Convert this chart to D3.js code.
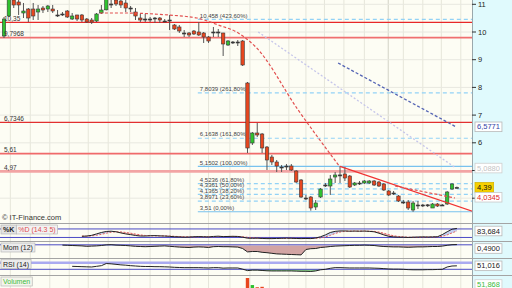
<!DOCTYPE html>
<html>
<head>
<meta charset="utf-8">
<script src="https://cdn.jsdelivr.net/npm/d3@7"></script>
<style>
  body { margin: 0; background: #fff; }
  svg { display: block; font-family: "Liberation Sans", Arial, sans-serif; }
</style>
</head>
<body>
<div id="graph_box"></div>
<script>
// daily candles, index 0..93
const opens  = [9.856,10.578,11.155,11.083,10.686,10.830,10.830,10.722,10.866,10.830,10.830,10.614,10.650,10.758,10.469,10.614,10.614,10.469,10.433,10.397,10.686,10.800,11.011,11.155,11.119,11.047,10.866,10.722,10.505,10.469,10.469,10.505,10.505,10.397,10.433,10.253,10.181,9.964,9.964,10.036,10.000,9.964,9.819,10.000,10.000,9.964,9.531,9.639,9.639,9.675,8.159,5.993,6.354,6.318,5.848,5.487,5.307,5.126,5.162,5.162,4.982,4.657,4.007,4.043,3.682,4.043,4.477,4.440,4.765,4.838,4.874,4.801,4.477,4.549,4.549,4.549,4.621,4.585,4.513,4.260,4.188,4.079,3.863,3.863,3.574,3.755,3.755,3.755,3.646,3.791,3.755,3.791,4.332,4.380];
const highs  = [10.542,11.444,11.264,11.155,11.047,10.866,11.047,10.975,10.939,10.975,10.975,10.794,10.722,10.794,10.686,10.620,10.650,10.505,10.505,10.686,10.975,11.336,11.227,11.264,11.227,11.155,10.939,10.866,10.650,10.650,10.542,10.542,10.542,10.469,10.614,10.289,10.253,10.072,10.000,10.072,10.361,10.000,9.856,10.181,10.108,9.970,9.711,9.675,9.711,9.711,8.195,6.390,6.715,6.354,5.884,5.560,5.379,5.199,5.235,5.235,5.018,4.693,4.116,4.079,3.935,4.368,4.549,4.838,4.946,5.150,5.130,4.838,4.585,4.621,4.657,4.657,4.657,4.621,4.549,4.296,4.260,4.116,3.935,3.935,3.899,3.899,3.791,3.791,3.827,3.827,3.791,4.260,4.549,4.420];
const lows   = [9.783,10.542,10.866,10.614,10.505,10.361,10.433,10.433,10.686,10.722,10.686,10.542,10.578,10.505,10.433,10.397,10.361,10.325,10.289,10.361,10.650,10.780,10.866,10.939,10.866,10.722,10.722,10.433,10.361,10.361,10.361,10.325,10.325,10.361,10.072,10.072,9.964,9.819,9.819,9.892,9.856,9.603,9.603,9.819,9.819,9.134,9.495,9.567,9.495,8.773,5.632,5.921,6.209,5.632,5.018,5.199,4.946,4.946,5.018,4.982,4.549,4.007,3.935,3.550,3.574,4.007,4.404,4.116,4.549,4.549,4.621,4.368,4.440,4.477,4.513,4.513,4.440,4.404,4.260,4.079,4.116,3.863,3.791,3.574,3.510,3.610,3.682,3.682,3.646,3.682,3.718,3.755,4.296,4.360];
const closes = [10.469,11.336,10.975,10.975,10.758,10.505,10.578,10.830,10.794,10.939,10.758,10.600,10.640,10.542,10.578,10.469,10.433,10.361,10.361,10.650,10.794,11.227,11.000,11.011,10.975,10.866,10.860,10.578,10.433,10.460,10.460,10.500,10.433,10.390,10.430,10.108,10.036,9.960,9.892,9.928,9.892,9.819,9.675,9.990,9.990,9.567,9.675,9.603,9.630,8.809,5.812,6.354,6.282,5.812,5.379,5.307,5.162,5.120,5.150,5.018,4.585,4.043,4.000,3.646,3.827,4.332,4.470,4.693,4.838,4.840,4.729,4.404,4.549,4.540,4.621,4.621,4.477,4.440,4.296,4.116,4.180,3.899,3.860,3.646,3.827,3.750,3.750,3.760,3.791,3.718,3.750,4.224,4.513,4.390];
const volumes = [22,30,18,15,12,16,14,12,10,11,10,8,7,12,10,9,11,9,8,14,16,25,14,15,12,13,9,12,10,8,7,8,9,7,14,12,13,9,8,9,15,13,12,10,9,22,12,8,8,40,100,68,58,60,52,40,35,28,22,24,30,38,26,32,28,30,22,28,20,24,20,26,16,14,15,14,16,15,18,20,16,22,14,24,22,15,12,11,14,12,10,52,30,18];

// oscillators
const stochStart = 16;
const stochK = [28,30,35,45,55,62,64,60,52,45,40,34,30,30,32,33,31,30,28,25,24,22,23,25,26,25,24,27,29,26,27,28,27,22,15,14,15,13,12,12,13,14,15,14,13,12,13,12,16,25,38,55,63,66,66,64,65,64,65,63,60,50,38,28,24,22,22,20,22,23,24,23,24,25,40,60,78,83.684];
const stochD = [30,29,31,35,42,50,57,60,59,55,50,44,38,34,32,31,31,31,30,28,26,25,24,24,25,25,25,25,26,27,27,27,27,25,21,18,16,14,14,13,13,13,14,14,14,13,13,13,14,17,24,35,48,58,63,65,65,65,65,64,63,58,50,40,32,27,24,22,21,21,22,23,23,24,28,38,52,66];
const momStart = 12;
const momentum = [0.2,0.1,0,-0.1,-0.2,-0.4,-0.3,-0.2,0,0.3,0.4,0.2,0.1,0,-0.2,-0.4,-0.5,-0.6,-0.5,-0.4,-0.3,-0.2,-0.4,-0.6,-0.8,-0.9,-1.0,-0.8,-0.7,-0.8,-1.0,-0.6,-0.5,-0.6,-0.6,-0.7,-0.8,-1.5,-3.2,-3.0,-3.0,-3.4,-3.6,-3.9,-4.2,-4.3,-4.4,-4.5,-4.6,-4.7,-2.0,-1.6,-1.5,-1.0,-0.8,-0.5,-0.3,-0.2,-0.1,0,0.1,0.1,0.2,0.1,0,-0.3,-0.5,-0.6,-0.7,-0.7,-0.8,-0.9,-0.8,-0.7,-0.7,-0.6,-0.5,-0.5,-0.3,0.1,0.4,0.49];
const rsiStart = 14;
const rsi = [48,47,46,45,44,48,52,65,63,60,57,55,52,50,48,47,47,46,46,45,44,42,41,40,40,40,40,39,38,40,40,37,38,38,38,31,22,25,25,23,21,20,20,20,20,20,19,18,18,17,20,27,30,36,40,40,39,38,38,38,38,38,37,36,34,32,31,31,30,28,27,27,27,28,28,29,30,44,50,51.016];

// horizontal levels and their left labels
const hLevels = [10.35, 9.7968, 6.7346, 5.61, 4.97];
const hLabels = ["10,35", "9,7968", "6,7346", "5,61", "4,97"];

// fibonacci levels
const fibStartIdx = 39.8;
const fibLevels = [10.458, 7.8039, 6.1638, 5.1502, 4.5236, 4.3361, 4.1365, 3.8971, 3.51];
const fibLabels = ["10,458 (423,60%)", "7,8039 (261,80%)", "6,1638 (161,80%)", "5,1502 (100,00%)",
                   "4,5236 (61,80%)", "4,3361 (50,00%)", "4,1365 (38,20%)", "3,8971 (23,60%)", "3,51 (0,00%)"];

// drawn lines as [candle index, price]
const sarCurve  = [[19.7,10.686],[24.8,10.686],[33.7,10.614],[39.6,10.505],[44,10.253],[48.1,9.964],[51.7,9.458],[60.4,7.184],[69,5.126]];
const downTrend = [[69,5.15],[100,3.30]];
const shortDash = [[80.3,4.44],[92.6,4.007]];
const paleTrend = [[52.2,10.0],[92.8,5.088]];
const blueTrend = [[68.6,8.881],[92.8,6.5771]];

const gridTicks = [4, 5, 6, 7, 8, 9, 10, 11];
const labelTicks = [6, 7, 8, 9, 10, 11];
const gridIdx = [1.3,5.4,9.4,13.4,17.3,21.4,25.8,30,38.2,42,46.4,50.5,54.5,58.5,62,65.8,69.8,74,82,86,89.8,93.8];
const monthIdx = [34.1, 78.9];

// value tags on the right axis
const tagLast = "4,39", tagRed = "4,0345", tagBlue = "6,5771", tagPale = "5,0880";
const tagK = "83,684", tagMom = "0,4900", tagRsi = "51,016", tagVol = "51,868";

function drawChart() {
    const W = 512, H = 288, plotR = 472;
    const svg = d3.select("#graph_box").append("svg").attr("width", W).attr("height", H);

    const x = d3.scaleLinear().domain([0, 93]).range([4, 456.9]);
    const y = d3.scaleLinear().domain([4, 10]).range([198.2, 32]);
    const yK = d3.scaleLinear().domain([0, 100]).range([240.3, 226.1]);
    const yM = d3.scaleLinear().domain([0, -5]).range([245.5, 255.5]);
    const yR = d3.scaleLinear().domain([30, 70]).range([269.3, 262.7]);
    const yV = d3.scaleLinear().domain([0, 100]).range([300, 278]);

    // backgrounds
    svg.append("rect").attr("width", plotR).attr("height", H).attr("fill", "#fdfdf4");
    svg.append("rect").attr("x", plotR).attr("width", W - plotR).attr("height", H).attr("fill", "#e0fafd");

    const defs = svg.append("defs");
    defs.append("clipPath").attr("id", "mainClip").append("rect").attr("width", plotR).attr("height", 223);

    // vertical grid through every panel
    svg.append("g").selectAll("line").data(gridIdx).enter().append("line")
        .attr("x1", d => x(d)).attr("x2", d => x(d)).attr("y1", 0).attr("y2", H)
        .attr("stroke", "#e6e6da").attr("stroke-width", 1);
    svg.append("g").selectAll("line").data(monthIdx).enter().append("line")
        .attr("x1", d => x(d)).attr("x2", d => x(d)).attr("y1", 0).attr("y2", H)
        .attr("stroke", "#d2d2c6").attr("stroke-width", 1);

    const main = svg.append("g").attr("clip-path", "url(#mainClip)");

    main.append("g").selectAll("line").data(gridTicks).enter().append("line")
        .attr("x1", 0).attr("x2", plotR).attr("y1", d => y(d)).attr("y2", d => y(d))
        .attr("stroke", "#e8e8e0");

    // red support / resistance lines
    const hColor = ["#e82828", "#f07070", "#e23030", "#f06a6a", "#f2a4a4"];
    const hWidth = [1.3, 1.8, 1.3, 1.8, 2.6];
    main.append("g").selectAll("line").data(hLevels).enter().append("line")
        .attr("x1", 0).attr("x2", plotR).attr("y1", d => y(d)).attr("y2", d => y(d))
        .attr("stroke", (d, i) => hColor[i]).attr("stroke-width", (d, i) => hWidth[i]);

    // fibonacci
    const fibG = main.append("g");
    fibG.selectAll("line").data(fibLevels).enter().append("line")
        .attr("x1", x(fibStartIdx)).attr("x2", plotR)
        .attr("y1", d => y(d)).attr("y2", d => y(d))
        .attr("stroke", (d, i) => (i === 3 || i === 8) ? "#78c2ee" : "#92d2f6")
        .attr("stroke-width", 1.2)
        .attr("stroke-dasharray", (d, i) => (i === 3 || i === 8) ? null : "4,3");

    // trend lines
    const line = d3.line().x(d => x(d[0])).y(d => y(d[1]));
    main.append("path").datum(paleTrend).attr("d", line).attr("fill", "none")
        .attr("stroke", "#c6c6ea").attr("stroke-width", 1.3).attr("stroke-dasharray", "2,2");
    main.append("path").datum(blueTrend).attr("d", line).attr("fill", "none")
        .attr("stroke", "#5464b4").attr("stroke-width", 1.3).attr("stroke-dasharray", "3,2");

    // candles
    const idx = d3.range(opens.length);
    const candles = main.append("g");
    candles.selectAll(".wick").data(idx).enter().append("line")
        .attr("x1", i => x(i)).attr("x2", i => x(i))
        .attr("y1", i => y(highs[i])).attr("y2", i => y(lows[i]))
        .attr("stroke", "#555").attr("stroke-width", 1);
    candles.selectAll(".body").data(idx).enter().append("rect")
        .attr("x", i => x(i) - 1.7).attr("width", 3.4)
        .attr("y", i => y(Math.max(opens[i], closes[i])))
        .attr("height", i => Math.max(1, Math.abs(y(opens[i]) - y(closes[i]))))
        .attr("fill", i => Math.abs(y(opens[i]) - y(closes[i])) < 1 ? "#333" : (closes[i] > opens[i] ? "#2fc22f" : "#e8461e"))
        .attr("stroke", "#3a3a3a").attr("stroke-width", 0.6);

    main.append("path").datum(sarCurve).attr("d", line.curve(d3.curveMonotoneX)).attr("fill", "none")
        .attr("stroke", "#e25050").attr("stroke-width", 1.2).attr("stroke-dasharray", "3,2");
    line.curve(d3.curveLinear);
    main.append("path").datum(downTrend).attr("d", line).attr("fill", "none")
        .attr("stroke", "#f03232").attr("stroke-width", 1.3);
    main.append("path").datum(shortDash).attr("d", line).attr("fill", "none")
        .attr("stroke", "#e25050").attr("stroke-width", 1.2).attr("stroke-dasharray", "3,2");

    // level texts
    main.append("g").selectAll("text").data(hLevels).enter().append("text")
        .attr("x", 4).attr("y", d => y(d) - 1.8)
        .attr("font-size", 6.5).attr("fill", "#333").text((d, i) => hLabels[i]);
    fibG.selectAll("text").data(fibLevels).enter().append("text")
        .attr("x", x(fibStartIdx) + 2).attr("y", d => y(d) - 1.8)
        .attr("font-size", 6).attr("fill", "#444").text((d, i) => fibLabels[i]);

    svg.append("text").attr("x", 2).attr("y", 220).attr("font-size", 7.5).attr("fill", "#333")
        .text("\u00a9 IT-Finance.com");

    // right price axis
    svg.append("line").attr("x1", plotR + 0.5).attr("x2", plotR + 0.5).attr("y1", 0).attr("y2", H)
        .attr("stroke", "#9aa8ac");
    const axis = svg.append("g");
    axis.selectAll("line").data(gridTicks).enter().append("line")
        .attr("x1", plotR).attr("x2", plotR + 4).attr("y1", d => y(d)).attr("y2", d => y(d))
        .attr("stroke", "#333");
    axis.selectAll("text").data(labelTicks).enter().append("text")
        .attr("x", plotR + 6).attr("y", d => y(d) + 2.5)
        .attr("font-size", 7.5).attr("fill", "#222").text(d => d);

    // lower panels
    const sep = [223.5, 241.5, 258.5, 275.5];
    svg.append("g").selectAll("line").data(sep).enter().append("line")
        .attr("x1", 0).attr("x2", W).attr("y1", d => d).attr("y2", d => d)
        .attr("stroke", "#a4a4a4");

    // stochastics
    const kG = svg.append("g");
    const kIdx = d3.range(stochK.length);
    const kx = i => x(i + stochStart);
    for (let i = 0; i < stochK.length - 1; i++) {
        const up = (stochK[i] + stochK[i + 1]) >= (stochD[i] + stochD[i + 1]);
        kG.append("path")
            .attr("d", `M${kx(i)},${yK(stochK[i])}L${kx(i + 1)},${yK(stochK[i + 1])}L${kx(i + 1)},${yK(stochD[i + 1])}L${kx(i)},${yK(stochD[i])}Z`)
            .attr("fill", up ? "#b4c4f0" : "#eeaaaa").attr("opacity", 0.8);
    }
    [80, 20].forEach(v => kG.append("line").attr("x1", 0).attr("x2", plotR).attr("y1", yK(v)).attr("y2", yK(v))
        .attr("stroke", "#4a4ac4").attr("stroke-width", 1));
    kG.append("path").datum(kIdx).attr("fill", "none").attr("stroke", "#e06060").attr("stroke-width", 1)
        .attr("stroke-dasharray", "2,1.5")
        .attr("d", d3.line().x(i => kx(i)).y(i => yK(stochD[i])));
    kG.append("path").datum(kIdx).attr("fill", "none").attr("stroke", "#222").attr("stroke-width", 1)
        .attr("d", d3.line().x(i => kx(i)).y(i => yK(stochK[i])));

    // momentum
    const mG = svg.append("g");
    const mIdx = d3.range(momentum.length);
    const mx = i => x(i + momStart);
    mG.append("path").datum(mIdx).attr("fill", "#d2a4a4")
        .attr("d", d3.area().x(i => mx(i)).y0(yM(0)).y1(i => yM(Math.min(0, momentum[i]))));
    mG.append("path").datum(mIdx).attr("fill", "#b4c4f0")
        .attr("d", d3.area().x(i => mx(i)).y0(yM(0)).y1(i => yM(Math.max(0, momentum[i]))));
    mG.append("line").attr("x1", 0).attr("x2", plotR).attr("y1", yM(0.35)).attr("y2", yM(0.35))
        .attr("stroke", "#4a4ac4");
    mG.append("path").datum(mIdx).attr("fill", "none").attr("stroke", "#222").attr("stroke-width", 1)
        .attr("d", d3.line().x(i => mx(i)).y(i => yM(momentum[i])));

    // rsi
    const rG = svg.append("g");
    const rIdx = d3.range(rsi.length);
    const rx = i => x(i + rsiStart);
    rG.append("path").datum(rIdx).attr("fill", "#8cd88c")
        .attr("d", d3.area().x(i => rx(i)).y0(yR(30)).y1(i => yR(Math.min(30, rsi[i]))));
    rG.append("line").attr("x1", 0).attr("x2", plotR).attr("y1", yR(70)).attr("y2", yR(70))
        .attr("stroke", "#aaaaf0").attr("stroke-width", 2.5);
    rG.append("line").attr("x1", 0).attr("x2", plotR).attr("y1", yR(30)).attr("y2", yR(30))
        .attr("stroke", "#4a4ac4").attr("stroke-width", 1);
    rG.append("path").datum(rIdx).attr("fill", "none").attr("stroke", "#222").attr("stroke-width", 1)
        .attr("d", d3.line().x(i => rx(i)).y(i => yR(rsi[i])));

    // volume
    svg.append("defs").append("clipPath").attr("id", "volClip").append("rect")
        .attr("y", 276).attr("width", plotR).attr("height", 20);
    svg.append("g").attr("clip-path", "url(#volClip)").selectAll("rect").data(idx).enter().append("rect")
        .attr("x", i => x(i) - 1.7).attr("width", 3.4)
        .attr("y", i => yV(volumes[i])).attr("height", i => yV(0) - yV(volumes[i]))
        .attr("fill", i => closes[i] >= opens[i] ? "#2fc22f" : "#e8461e");

    // panel titles
    function tag(g, xx, yy, txt, color, bg, bold) {
        const t = g.append("text").attr("x", xx + 2).attr("y", yy + 7).attr("font-size", 7)
            .attr("fill", color).attr("font-weight", bold ? "bold" : "normal").text(txt);
        const w = t.node().getComputedTextLength() + 4;
        g.insert("rect", "text").attr("x", xx).attr("y", yy).attr("width", w).attr("height", 9)
            .attr("fill", bg).attr("stroke", "#b0b0b0").attr("stroke-width", 0.6);
        return w;
    }
    const titles = svg.append("g");
    const kw = tag(titles.append("g"), 1, 225, "%K", "#222", "#e2e2e2", true);
    tag(titles.append("g"), 1 + kw, 225, "%D (14.3 5)", "#e05050", "#f2f2f2", false);
    tag(titles.append("g"), 1, 243, "Mom (12)", "#222", "#ececec", false);
    tag(titles.append("g"), 1, 259.5, "RSI (14)", "#222", "#ececec", false);
    tag(titles.append("g"), 1, 277, "Volumen", "#3cbc3c", "#f4f4ec", false);

    // value boxes on the right
    function valueBox(cy, txt, color, bg, border) {
        const g = svg.append("g");
        const t = g.append("text").attr("x", plotR + 5).attr("y", cy + 2.6).attr("font-size", 7.5)
            .attr("fill", color).text(txt);
        const w = t.node().getComputedTextLength() + 4;
        g.insert("rect", "text").attr("x", plotR + 3).attr("y", cy - 4.8).attr("width", w).attr("height", 9.6)
            .attr("fill", bg).attr("stroke", border).attr("stroke-width", 0.8);
    }
    valueBox(y(6.5771), tagBlue, "#3444a8", "#fff", "#b8b8b8");
    valueBox(y(5.088), tagPale, "#c4c4c4", "#fff", "#cfcfcf");
    valueBox(y(4.39), tagLast, "#111", "#f6d000", "#d8b400");
    valueBox(y(4.0345), tagRed, "#e02828", "#fff", "#c8c8c8");
    valueBox(Math.max(yK(83.684), 231), tagK, "#222", "#fff", "#b8b8b8");
    valueBox(Math.max(yM(0.49), 248.5), tagMom, "#222", "#fff", "#b8b8b8");
    valueBox(yR(51.016), tagRsi, "#222", "#fff", "#b8b8b8");
    valueBox(284.5, tagVol, "#3cbc3c", "#fff", "#d0d0d0");
}

drawChart();
</script>
</body>
</html>
